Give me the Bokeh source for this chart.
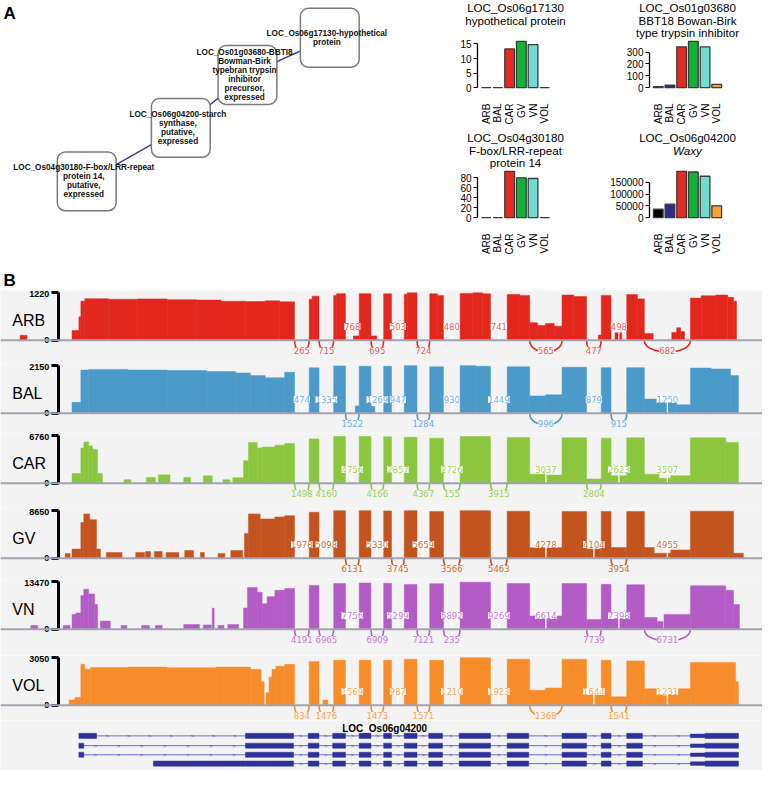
import math
from bokeh.plotting import figure
from bokeh.models import Range1d, LinearAxis, FixedTicker, BasicTickFormatter, Span, Label
from bokeh.layouts import column, row
from bokeh.embed import file_html
from bokeh.resources import INLINE
from bokeh.core.properties import value

S = 0.98
FONT = "Liberation Sans"
BG = "#f3f3f3"

# ---------------- panel A : co-expression network ----------------
NODE_X = [336, 252, 184, 88]
NODE_Y = [38, 76, 130, 184.5]
NODE_LINES = [
    ["LOC_Os06g17130-hypothetical", "protein"],
    ["LOC_Os01g03680-BBTI8", "Bowman-Birk", "typebran trypsin", "inhibitor", "precursor,", "expressed"],
    ["LOC_Os06g04200-starch", "synthase,", "putative,", "expressed"],
    ["LOC_Os04g30180-F-box/LRR-repeat", "protein 14,", "putative,", "expressed"],
]
NET_EDGES = [(0, 1), (1, 2), (2, 3)]

# ---------------- panel A : expression bar charts ----------------
BAR_SAMPLES = ["ARB", "BAL", "CAR", "GV", "VN", "VOL"]
BAR_COLORS = ["#000000", "#31298f", "#e32b24", "#11b13a", "#71dccf", "#f7a535"]
EXPR_OS06G17130 = [0, 0, 13.3, 15.9, 14.8, 0]
EXPR_OS01G03680 = [8, 20, 344, 390, 344, 28]
EXPR_OS04G30180 = [0, 0, 93, 80, 78.6, 0]
EXPR_OS06G04200 = [36000, 57000, 195800, 193000, 175000, 50000]
TICKS_OS06G17130 = [0, 5, 10, 15]
TICKS_OS01G03680 = [0, 100, 200, 300]
TICKS_OS04G30180 = [0, 20, 40, 60, 80]
TICKS_OS06G04200 = [0, 50000, 100000, 150000]
TITLE_OS06G17130 = ["LOC_Os06g17130", "hypothetical protein"]
TITLE_OS01G03680 = ["LOC_Os01g03680", "BBT18 Bowan-Birk", "type trypsin inhibitor"]
TITLE_OS04G30180 = ["LOC_Os04g30180", "F-box/LRR-repeat", "protein 14"]
TITLE_OS06G04200 = ["LOC_Os06g04200", "Waxy"]

# ---------------- panel B : sashimi tracks ----------------
TRACK_NAMES = ["ARB", "BAL", "CAR", "GV", "VN", "VOL"]
TRACK_MAX = [1220, 2150, 6760, 8650, 13470, 3050]
TRACK_COLORS = ["#e2271f", "#4b9ac9", "#8cc63e", "#c4541f", "#b35cc6", "#f78c2a"]
JUNC_TEXT_COLORS = ["#f05a55", "#6eaee0", "#9ccf55", "#d36a30", "#c47ad8", "#f9a555"]

# junction donor / acceptor positions (genomic axis units)
JUNC_START = [300, 325, 352, 378, 399, 425, 452, 500, 540, 598, 623, 657]
JUNC_END = [315, 340, 366, 391, 412, 438, 469, 517, 573, 613, 639, 704]

ARB_JUNC = [265, 715, 768, 695, 503, 724, 480, 741, 565, 477, 498, 682]
ARB_SIDE = [-1, -1, 1, -1, 1, -1, 1, 1, -1, -1, 1, -1]
BAL_JUNC = [474, 1335, 1522, 1269, 947, 1284, 930, 1449, 996, 879, 915, 1250]
BAL_SIDE = [1, 1, -1, 1, 1, -1, 1, 1, -1, 1, -1, 1]
CAR_JUNC = [1498, 4160, 4756, 4166, 2857, 4367, 2726, 3915, 3037, 2804, 2623, 3507]
CAR_SIDE = [-1, -1, 1, -1, 1, -1, 1, -1, 1, -1, 1, 1]
GV_JUNC = [1978, 5098, 6131, 5330, 3745, 5659, 3566, 5463, 4278, 4104, 3954, 4955]
GV_SIDE = [1, 1, -1, 1, -1, 1, -1, -1, 1, 1, -1, 1]
VN_JUNC = [4191, 6965, 7756, 6909, 5299, 7121, 5892, 9269, 6614, 7739, 7398, 6731]
VN_SIDE = [-1, -1, 1, -1, 1, -1, 1, 1, 1, -1, 1, -1]
VOL_JUNC = [834, 1476, 1569, 1473, 987, 1571, 1210, 1923, 1368, 1644, 1541, 1231]
VOL_SIDE = [-1, -1, 1, -1, 1, -1, 1, 1, -1, 1, -1, 1]
# extra (minor) junctions: (junction index, count), drawn below
CAR_EXTRA = [(6, 155)]
VN_EXTRA = [(6, 235)]
NO_EXTRA = []

# read coverage: (start, end, depth)
ARB_COV = [
    (20, 27, 125), (73, 80, 250), (80, 82, 600),
    (82, 86, 1000), (86, 110, 1065), (110, 140, 1050), (140, 170, 1060), (170, 200, 1040),
    (200, 225, 1030), (225, 250, 1000), (250, 270, 990), (270, 285, 1010), (285, 300, 985),
    (315, 318, 1050), (318, 325, 1130), (340, 343, 1150), (343, 352, 1195),
    (360, 366, 110), (366, 378, 1195), (378, 384, 110), (391, 399, 1190),
    (412, 415, 1180), (415, 425, 1215), (438, 446, 1190), (446, 452, 1150),
    (469, 482, 1200), (482, 492, 1215), (492, 500, 1190), (517, 530, 1170), (530, 540, 1150),
    (540, 548, 450), (548, 556, 380), (556, 565, 430), (565, 573, 360),
    (573, 585, 1160), (585, 598, 1120), (610, 613, 130), (613, 623, 1150), (627, 634, 190),
    (639, 650, 1170), (650, 657, 1060), (657, 666, 170), (685, 690, 200), (690, 694, 320), (694, 698, 220),
    (704, 715, 1080), (715, 730, 1140), (730, 742, 1160), (742, 748, 1100), (748, 751, 1000),
]
BAL_COV = [
    (73, 82, 490), (82, 90, 1950), (90, 130, 1980), (130, 170, 1950), (170, 210, 1930),
    (210, 240, 1880), (240, 255, 1820), (255, 270, 1700), (270, 290, 1600), (290, 300, 1850),
    (315, 325, 2050), (340, 352, 2140), (362, 366, 330), (366, 378, 2120), (378, 382, 300),
    (391, 399, 2120), (412, 425, 2150), (438, 452, 2100), (469, 485, 2150), (485, 500, 2120),
    (517, 540, 2100), (540, 556, 780), (556, 573, 830), (573, 598, 2080), (613, 623, 2060),
    (639, 657, 2060), (657, 672, 640), (672, 690, 560), (690, 704, 380),
    (704, 725, 2040), (725, 745, 2000), (745, 753, 1700),
]
CAR_COV = [
    (73, 82, 1370), (82, 85, 5000), (85, 90, 5850), (90, 94, 5300), (94, 99, 4800), (99, 104, 1370),
    (126, 133, 500), (149, 158, 820), (161, 173, 1190), (187, 194, 820), (207, 216, 1050),
    (227, 234, 500), (237, 248, 780),
    (248, 253, 3200), (253, 262, 5800), (262, 267, 5000), (267, 280, 5150), (280, 290, 5400), (290, 300, 5650),
    (315, 325, 6300), (340, 352, 6630), (366, 378, 6630), (391, 399, 6600), (412, 425, 6530),
    (438, 452, 6400), (469, 500, 6630), (517, 540, 6500), (540, 556, 1280), (556, 573, 1150),
    (573, 598, 6450), (598, 613, 600), (613, 623, 6400), (623, 639, 1050), (639, 657, 6450),
    (657, 672, 1280), (672, 684, 700), (684, 704, 1050), (704, 740, 6450), (740, 753, 5800),
]
GV_COV = [
    (66, 71, 860), (73, 82, 1650), (82, 85, 6500), (85, 91, 8050), (91, 98, 7000), (98, 102, 1650),
    (108, 124, 1040), (138, 147, 1040), (148, 153, 1220), (157, 165, 1220), (169, 182, 1040),
    (188, 197, 1400), (204, 208, 1040), (222, 229, 860), (235, 247, 1400),
    (249, 253, 4500), (253, 265, 8050), (265, 280, 7140), (280, 290, 7500), (290, 300, 7740),
    (315, 325, 8360), (340, 352, 8650), (366, 378, 8650), (391, 399, 8600), (412, 425, 8650),
    (438, 452, 8500), (469, 500, 8650), (517, 540, 8550), (540, 573, 1900), (573, 598, 8500),
    (598, 613, 1650), (613, 623, 8500), (623, 639, 1950), (639, 657, 8500),
    (657, 667, 1950), (667, 684, 900), (684, 704, 1500), (704, 748, 8550), (748, 758, 900),
]
VN_COV = [
    (31, 38, 1070), (64, 71, 1070), (73, 77, 4180), (77, 82, 4600), (82, 85, 9500), (85, 90, 11340),
    (90, 96, 10000), (96, 99, 7000), (102, 112, 2300), (123, 129, 1070), (144, 152, 1070),
    (158, 165, 1070), (187, 203, 1340), (207, 215, 1200), (216, 218, 5960), (222, 228, 1070),
    (232, 243, 1340),
    (248, 252, 6000), (252, 262, 11800), (262, 267, 10500), (267, 272, 7200), (272, 280, 9200),
    (280, 290, 11000), (290, 300, 11500),
    (315, 325, 12400), (340, 352, 12940), (366, 378, 13100), (391, 399, 13000), (412, 425, 12680),
    (438, 452, 12900), (469, 500, 13300), (517, 540, 12950), (540, 573, 3750), (573, 598, 12950),
    (598, 613, 2770), (613, 623, 12700), (623, 639, 3300), (639, 657, 12600),
    (657, 670, 3300), (670, 676, 2200), (677, 704, 4180),
    (704, 740, 12300), (740, 748, 11000), (748, 754, 7000),
]
VOL_COV = [
    (70, 76, 330), (76, 82, 500), (82, 86, 2630), (86, 92, 2300), (92, 130, 2420), (130, 170, 2450),
    (170, 220, 2400), (220, 255, 2450), (255, 266, 2300), (266, 269, 1500),
    (271, 274, 800), (274, 277, 1800), (277, 281, 2300), (281, 290, 2500), (290, 300, 2620),
    (315, 325, 2800), (329, 334, 330), (340, 352, 2880), (366, 378, 2880), (391, 399, 2880),
    (412, 425, 2950), (438, 452, 2880), (469, 500, 3050), (517, 540, 2950), (540, 556, 960),
    (556, 573, 1100), (573, 598, 2950), (598, 613, 860), (613, 623, 2880), (623, 639, 540),
    (639, 657, 2840), (657, 676, 1060), (676, 680, 600), (680, 704, 1060),
    (704, 750, 2740), (750, 753, 1500),
]

# ---------------- gene model (LOC_Os06g04200 transcripts) ----------------
GENE_NAME = "LOC_Os06g04200"
TX_FIRST = [(80, 98), (80, 85), (80, 85), (156, 250)]
TX_SHARED = [(250, 299), (314, 325), (339, 352), (366, 378), (391, 399), (412, 425), (437, 451),
             (468, 500), (517, 539), (573, 598), (613, 623), (639, 655), (719, 753)]
TX_UTR = [(704, 719)]


# ---------------- helpers ----------------
def blank_fig(w, h, xr, yr, bg="white"):
    p = figure(width=w, height=h, x_range=Range1d(*xr), y_range=Range1d(*yr),
               x_axis_type=None, y_axis_type=None, toolbar_location=None,
               output_backend="svg", min_border_left=0, min_border_right=0,
               min_border_top=0, min_border_bottom=0)
    p.outline_line_color = None
    p.background_fill_color = bg
    p.border_fill_color = bg
    p.grid.visible = False
    return p


# ---------------- network ----------------
NET_W, NET_H = 426, 261
net = blank_fig(NET_W, NET_H, (0, NET_W / S), (NET_H / S, 0))
net.text(x=[3], y=[13], text=["A"], text_font=value(FONT), text_font_style="bold",
         text_font_size="17px", text_baseline="middle")
for a, b in NET_EDGES:
    net.line([NODE_X[a], NODE_X[b]], [NODE_Y[a], NODE_Y[b]], line_color="#3b36a6", line_width=1.4)
net.quad(left=[x - 30 for x in NODE_X], right=[x + 30 for x in NODE_X],
         top=[y - 30 for y in NODE_Y], bottom=[y + 30 for y in NODE_Y],
         fill_color="white", line_color="#7a7a7a", line_width=1.5, border_radius=8)
for cx, cy, lines in zip(NODE_X, NODE_Y, NODE_LINES):
    n = len(lines)
    ys = [cy + (i - (n - 1) / 2) * 9.2 for i in range(n)]
    net.text(x=[cx - 3] * n, y=ys, text=lines, text_font=value(FONT), text_font_style="bold",
             text_font_size="8.2px", text_align="center", text_baseline="middle", text_color="#111111")


# ---------------- bar charts ----------------
def bar_chart(vals, ticks, titles, w, h, left, italic_second=False):
    M = max(vals)
    top, fh, fw = 39, 50, 76
    uy = 1.08 * M / fh
    ux = 6.5 / fw
    y_top = 1.04 * M + top * uy
    y_bot = -0.04 * M - (h - top - fh) * uy
    x_lo = -0.75 - left * ux
    x_hi = 5.75 + (w - left - fw) * ux
    p = blank_fig(w, h, (x_lo, x_hi), (y_bot, y_top))
    p.vbar(x=list(range(6)), top=vals, bottom=0, width=0.83, fill_color=BAR_COLORS,
           line_color="#3a3a3a", line_width=1.3)
    yax = LinearAxis(fixed_location=-0.75, bounds=(0, ticks[-1]), ticker=FixedTicker(ticks=ticks),
                     formatter=BasicTickFormatter(use_scientific=False))
    yax.axis_line_width = 1.3
    yax.major_tick_out = 4
    yax.major_tick_in = 0
    yax.minor_tick_line_color = None
    yax.major_label_standoff = 2
    yax.major_label_text_font = FONT
    yax.major_label_text_font_size = "10px"
    yax.major_label_text_color = "black"
    p.add_layout(yax, "left")
    xax = LinearAxis(fixed_location=-0.04 * M, ticker=FixedTicker(ticks=list(range(6))))
    xax.major_label_overrides = {i: s for i, s in enumerate(BAR_SAMPLES)}
    xax.major_label_orientation = math.pi / 2
    xax.axis_line_color = None
    xax.major_tick_line_color = None
    xax.minor_tick_line_color = None
    xax.major_label_standoff = 8
    xax.major_label_text_font = FONT
    xax.major_label_text_font_size = "10px"
    xax.major_label_text_color = "black"
    p.add_layout(xax, "below")
    offs = [32.2, 19.4, 6.6]
    for i, t in enumerate(titles):
        style = "italic" if (italic_second and i == 1) else "normal"
        p.text(x=[2.5], y=[1.04 * M + offs[i] * uy], text=[t], text_align="center",
               text_baseline="middle", text_font=value(FONT), text_font_size="11.6px",
               text_font_style=style, text_color="black")
    return p


b1 = bar_chart(EXPR_OS06G17130, TICKS_OS06G17130, TITLE_OS06G17130, 168, 130, 51)
b2 = bar_chart(EXPR_OS01G03680, TICKS_OS01G03680, TITLE_OS01G03680, 168, 130, 55)
b3 = bar_chart(EXPR_OS04G30180, TICKS_OS04G30180, TITLE_OS04G30180, 168, 131, 51)
b4 = bar_chart(EXPR_OS06G04200, TICKS_OS06G04200, TITLE_OS06G04200, 168, 131, 55, italic_second=True)

# ---------------- "B" header ----------------
bhead = blank_fig(762, 29, (0, 762 / S), (29 / S, 0))
bhead.text(x=[3], y=[19], text=["B"], text_font=value(FONT), text_font_style="bold",
           text_font_size="17px", text_baseline="middle")


# ---------------- sashimi tracks ----------------
def track(idx, cov, junc, side, extra, h_px):
    name = TRACK_NAMES[idx]
    M = TRACK_MAX[idx]
    color = TRACK_COLORS[idx]
    jcol = JUNC_TEXT_COLORS[idx]
    h_ref = h_px / S
    u = M / 48.5
    p = blank_fig(762, h_px, (0, 762 / S), (-(h_ref - 50.7) * u, 50.7 * u), bg=BG)
    p.quad(left=[c[0] for c in cov], right=[c[1] for c in cov], bottom=0,
           top=[c[2] for c in cov], fill_color=color, line_color=color, line_width=0.5)
    p.add_layout(Span(location=0, dimension="width", line_color="#a2a2b0", line_width=2))
    below = [(JUNC_START[i], JUNC_END[i], junc[i]) for i in range(len(junc)) if side[i] < 0]
    below += [(JUNC_START[k], JUNC_END[k], c) for k, c in extra]
    above = [(JUNC_START[i], JUNC_END[i], junc[i]) for i in range(len(junc)) if side[i] > 0]
    if below:
        x0 = [b[0] for b in below]
        x1 = [b[1] for b in below]
        p.bezier(x0=x0, y0=0, x1=x1, y1=0, cx0=x0, cy0=-16 * u, cx1=x1, cy1=-16 * u,
                 line_color=color, line_width=1.6)
        p.text(x=[(a + b) / 2 for a, b, _ in below], y=-10.6 * u, text=[str(c) for _, _, c in below],
               text_align="center", text_baseline="middle", text_color=jcol,
               text_font=value("DejaVu Sans"), text_font_size="8.5px", background_fill_color=BG)
    if above:
        mids = [(a + b) / 2 for a, b, _ in above]
        p.segment(x0=mids, y0=0, x1=mids, y1=14 * u, line_color="white", line_width=1.3)
        p.text(x=mids, y=14 * u, text=[str(c) for _, _, c in above],
               text_align="center", text_baseline="middle", text_color=jcol,
               text_font=value("DejaVu Sans"), text_font_size="8.5px", background_fill_color="white")
    ax = LinearAxis(fixed_location=59, bounds=(0, M), ticker=FixedTicker(ticks=[0, M]),
                    formatter=BasicTickFormatter(use_scientific=False))
    ax.axis_line_width = 3
    ax.axis_line_color = "black"
    ax.major_tick_line_width = 3
    ax.major_tick_out = 7
    ax.major_tick_in = 0
    ax.minor_tick_line_color = None
    ax.major_label_standoff = 2
    ax.major_label_text_font = FONT
    ax.major_label_text_font_style = "bold"
    ax.major_label_text_font_size = "9px"
    ax.major_label_text_color = "black"
    p.add_layout(ax, "left")
    p.add_layout(Label(x=12, y=0.42 * M, text=name, text_font=FONT, text_font_size="16px",
                       text_baseline="middle", text_color="black"))
    return p


TRACK_H = [73, 70, 75, 71, 76, 65]
tracks = [
    track(0, ARB_COV, ARB_JUNC, ARB_SIDE, NO_EXTRA, TRACK_H[0]),
    track(1, BAL_COV, BAL_JUNC, BAL_SIDE, NO_EXTRA, TRACK_H[1]),
    track(2, CAR_COV, CAR_JUNC, CAR_SIDE, CAR_EXTRA, TRACK_H[2]),
    track(3, GV_COV, GV_JUNC, GV_SIDE, NO_EXTRA, TRACK_H[3]),
    track(4, VN_COV, VN_JUNC, VN_SIDE, VN_EXTRA, TRACK_H[4]),
    track(5, VOL_COV, VOL_JUNC, VOL_SIDE, NO_EXTRA, TRACK_H[5]),
]

# ---------------- gene model ----------------
GH = 50
gene = blank_fig(762, GH, (0, 762 / S), (GH / S, 0), bg=BG)
TX_Y = [15.7, 25.7, 35.0, 44.0]
for ti, y in enumerate(TX_Y):
    thick = [TX_FIRST[ti]] + TX_SHARED
    blocks = sorted(thick + TX_UTR)
    gene.line([blocks[0][0], blocks[-1][1]], [y, y], line_color="#6b6bd0", line_width=1)
    gene.quad(left=[b[0] for b in thick], right=[b[1] for b in thick],
              top=[y - 2.6] * len(thick), bottom=[y + 2.6] * len(thick),
              fill_color="#30309c", line_color="#30309c", line_width=0.5)
    gene.quad(left=[b[0] for b in TX_UTR], right=[b[1] for b in TX_UTR],
              top=[y - 1.8] * len(TX_UTR), bottom=[y + 1.8] * len(TX_UTR),
              fill_color="#30309c", line_color="#30309c", line_width=0.5)
    cx = []
    for (s0, e0), (s1, e1) in zip(blocks[:-1], blocks[1:]):
        gap = s1 - e0
        if gap <= 3:
            continue
        n = max(1, int(gap // 21))
        cx += [e0 + gap * (k + 0.5) / n for k in range(n)]
    gene.text(x=cx, y=[y] * len(cx), text=[">"] * len(cx), text_align="center",
              text_baseline="middle", text_color="#4646b8", text_font=value(FONT),
              text_font_size="6px")
gene.text(x=[392], y=[8], text=[GENE_NAME], text_align="center", text_baseline="middle",
          text_font=value(FONT), text_font_style="bold", text_font_size="10px", text_color="black")

layout = column(row(net, column(row(b1, b2), row(b3, b4))), bhead, *tracks, gene)
open("out.html", "w").write(file_html(layout, INLINE))
